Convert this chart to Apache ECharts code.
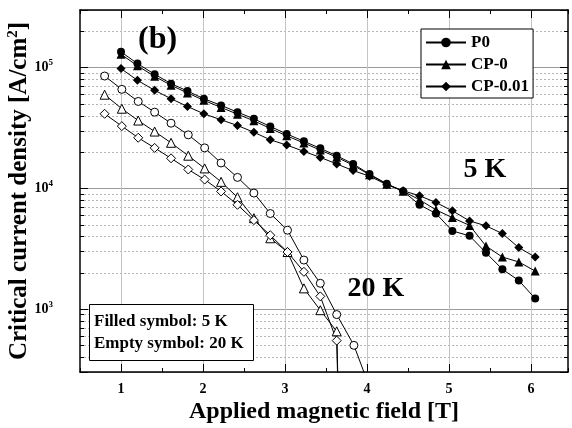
<!DOCTYPE html>
<html>
<head>
<meta charset="utf-8">
<script src="https://cdn.jsdelivr.net/npm/echarts@6/dist/echarts.min.js"></script>
<style>
  html, body { margin: 0; padding: 0; background: #fff; }
  #chart { width: 572px; height: 428px; }
</style>
</head>
<body>
<div id="chart"></div>
<script>
// applied field [T]
const field5K = [1.00, 1.20, 1.41, 1.61, 1.81, 2.01, 2.22, 2.42, 2.62, 2.82, 3.02, 3.23, 3.43, 3.63, 3.83, 4.03, 4.24, 4.44, 4.64, 4.84, 5.04, 5.25, 5.45, 5.65, 5.85, 6.05]
const field20K = [0.80, 1.01, 1.21, 1.41, 1.61, 1.82, 2.02, 2.22, 2.42, 2.62, 2.82, 3.03, 3.23, 3.43, 3.63, 3.84, 4.04]

// critical current density [A/cm2], filled symbols = 5 K
const p0_5K = [135000, 108000, 88000, 73600, 63900, 55200, 48600, 42700, 37600, 32500, 28200, 24500, 21400, 18600, 15900, 13100, 10900, 9440, 7290, 6170, 4430, 4030, 2920, 2130, 1720, 1220]
const cp0_5K = [129000, 103500, 84600, 71300, 61700, 53500, 46700, 41100, 36200, 31300, 27200, 23700, 20700, 18100, 15500, 12950, 10800, 9440, 8020, 6620, 5710, 4920, 3320, 2690, 2450, 2060]
const cp001_5K = [98100, 78400, 64800, 55200, 47600, 41400, 36900, 33100, 29100, 25200, 22800, 20200, 18000, 15900, 14000, 12600, 10700, 9530, 8660, 7620, 6500, 5360, 4880, 4210, 3220, 2690]

// empty symbols = 20 K (last points fall below the axis)
const p0_20K = [85100, 66000, 52400, 42700, 34600, 27700, 21600, 16200, 12300, 9120, 6170, 4490, 2540, 1630, 898, 499, 216]
const cp0_20K = [59600, 45600, 36400, 29500, 23800, 18600, 14600, 11300, 8420, 5650, 3850, 2960, 1480, 976, 652, 0.001]
const cp001_20K = [41400, 32700, 26200, 21600, 17700, 14300, 11800, 9410, 7290, 5440, 4080, 2960, 2030, 1270, 546, 0.001]

// axis decorations
const xMajor = [1, 2, 3, 4, 5, 6]
const yMinor = [400, 500, 600, 700, 800, 900, 2000, 3000, 4000, 5000, 6000, 7000, 8000, 9000,
  20000, 30000, 40000, 50000, 60000, 70000, 80000, 90000, 200000]

const FONT = 'Liberation Serif'
const xMin = 0.5, xMax = 6.45, yMin = 300, yMax = 300000

const pairs = (xs, ys) => ys.map((y, i) => [xs[i], y])

function filled(name, symbol, size, xs, ys) {
  return {
    name: name, type: 'line', symbol: symbol, symbolSize: size,
    data: pairs(xs, ys), z: 5,
    itemStyle: { color: '#000' },
    lineStyle: { color: '#000', width: 1 }
  }
}
function empty(name, symbol, size, xs, ys) {
  return {
    name: name, type: 'line', symbol: symbol, symbolSize: size,
    data: pairs(xs, ys), z: 4,
    itemStyle: { color: '#fff', borderColor: '#000', borderWidth: 1 },
    lineStyle: { color: '#000', width: 1 }
  }
}

const crisp = v => Math.round(v) + 0.5

const chart = echarts.init(document.getElementById('chart'))
chart.setOption({
  animation: false,
  backgroundColor: '#fff',
  grid: { left: 80, right: 4, top: 10, bottom: 56, containLabel: false, outerBoundsMode: 'none' },
  legend: {
    data: ['P0', 'CP-0', 'CP-0.01'],
    orient: 'vertical', left: 421, top: 29,
    itemWidth: 40, itemHeight: 12, itemGap: 5,
    padding: [5, 4, 3, 4],
    backgroundColor: '#fff', borderColor: '#000', borderWidth: 1, borderRadius: 0,
    textStyle: { fontFamily: FONT, fontWeight: 'bold', fontSize: 17, color: '#000' }
  },
  xAxis: [{
    type: 'value', min: xMin, max: xMax, interval: 0.5,
    name: 'Applied magnetic field [T]', nameLocation: 'middle', nameGap: 28, nameMoveOverlap: false,
    nameTextStyle: { fontFamily: FONT, fontWeight: 'bold', fontSize: 24, color: '#000' },
    axisLine: { lineStyle: { color: '#000', width: 1.5 } },
    axisTick: { inside: true, length: 4, lineStyle: { color: '#000' } },
    axisLabel: {
      margin: 10, fontFamily: FONT, fontWeight: 'bold', fontSize: 14, color: '#000',
      formatter: v => Number.isInteger(v) ? String(v) : ''
    },
    splitLine: { show: false }
  }, {
    type: 'value', position: 'top', min: xMin, max: xMax, interval: 0.5,
    axisLine: { lineStyle: { color: '#000', width: 1.5 } },
    axisTick: { inside: true, length: 4, lineStyle: { color: '#000' } },
    axisLabel: { show: false },
    splitLine: { show: false }
  }],
  yAxis: [{
    type: 'log', logBase: 10, min: yMin, max: yMax,
    name: '{a|Critical current density [A/cm}{s|2}{a|]}', nameLocation: 'middle', nameGap: 46, nameMoveOverlap: false,
    nameTextStyle: {
      rich: {
        a: { fontFamily: FONT, fontWeight: 'bold', fontSize: 25, color: '#000', lineHeight: 28 },
        s: { fontFamily: FONT, fontWeight: 'bold', fontSize: 15, color: '#000', verticalAlign: 'top', lineHeight: 28 }
      }
    },
    axisLine: { lineStyle: { color: '#000', width: 1.5 } },
    axisTick: { inside: true, length: 8, lineStyle: { color: '#000' } },
    axisLabel: {
      margin: 27,
      formatter: v => {
        const e = Math.log10(v)
        if (Math.abs(e - Math.round(e)) > 1e-6) return ''
        return '{b|10}{s|' + Math.round(e) + '}'
      },
      rich: {
        b: { fontFamily: FONT, fontWeight: 'bold', fontSize: 14, color: '#000', lineHeight: 18 },
        s: { fontFamily: FONT, fontWeight: 'bold', fontSize: 9, color: '#000', verticalAlign: 'top', lineHeight: 18 }
      }
    },
    splitLine: { show: true, lineStyle: { color: '#9a9a9a', width: 1 } }
  }, {
    type: 'log', logBase: 10, min: yMin, max: yMax, position: 'right',
    axisLine: { lineStyle: { color: '#000', width: 1.5 } },
    axisTick: { inside: true, length: 8, lineStyle: { color: '#000' } },
    axisLabel: { show: false },
    splitLine: { show: false }
  }],
  series: [
    {
      // dotted minor grid + minor ticks on both y sides
      type: 'custom', silent: true, z: 1,
      data: yMinor.map(v => [xMin, v]),
      renderItem: (params, api) => {
        const y = crisp(api.coord([xMin, api.value(1)])[1])
        const x0 = params.coordSys.x, x1 = x0 + params.coordSys.width
        return {
          type: 'group', children: [
            { type: 'line', shape: { x1: x0, y1: y, x2: x1, y2: y }, style: { stroke: '#b4b4b4', lineWidth: 1, lineDash: [2, 2] } },
            { type: 'line', shape: { x1: x0, y1: y, x2: x0 + 4, y2: y }, style: { stroke: '#000', lineWidth: 1 } },
            { type: 'line', shape: { x1: x1 - 4, y1: y, x2: x1, y2: y }, style: { stroke: '#000', lineWidth: 1 } }
          ]
        }
      }
    },
    {
      // vertical grid + longer ticks at whole tesla
      type: 'custom', silent: true, z: 1,
      data: xMajor.map(v => [v, yMin]),
      renderItem: (params, api) => {
        const x = crisp(api.coord([api.value(0), yMin])[0])
        const y0 = params.coordSys.y, y1 = y0 + params.coordSys.height
        return {
          type: 'group', children: [
            { type: 'line', shape: { x1: x, y1: y0, x2: x, y2: y1 }, style: { stroke: '#c4c4c4', lineWidth: 1 } },
            { type: 'line', shape: { x1: x, y1: y1, x2: x, y2: y1 - 8 }, style: { stroke: '#000', lineWidth: 1 } },
            { type: 'line', shape: { x1: x, y1: y0, x2: x, y2: y0 + 8 }, style: { stroke: '#000', lineWidth: 1 } }
          ]
        }
      }
    },
    empty('P0 20K', 'circle', 8, field20K, p0_20K),
    empty('CP-0 20K', 'triangle', 9, field20K, cp0_20K),
    empty('CP-0.01 20K', 'diamond', 9, field20K, cp001_20K),
    filled('P0', 'circle', 8, field5K, p0_5K),
    filled('CP-0', 'triangle', 9, field5K, cp0_5K),
    filled('CP-0.01', 'diamond', 9, field5K, cp001_5K)
  ],
  graphic: [
    { type: 'text', left: 138, top: 24, z: 10,
      style: { text: '(b)', fontFamily: FONT, fontWeight: 'bold', fontSize: 32, fill: '#000' } },
    { type: 'text', x: 485, y: 170, z: 10,
      style: { text: '5 K', fontFamily: FONT, fontWeight: 'bold', fontSize: 28, fill: '#000', align: 'center', verticalAlign: 'middle' } },
    { type: 'text', x: 376, y: 289, z: 10,
      style: { text: '20 K', fontFamily: FONT, fontWeight: 'bold', fontSize: 28, fill: '#000', align: 'center', verticalAlign: 'middle' } },
    { type: 'rect', z: 10, shape: { x: 89.5, y: 304.5, width: 164, height: 56 },
      style: { fill: '#fff', stroke: '#000', lineWidth: 1 } },
    { type: 'text', x: 94, y: 322, z: 11,
      style: { text: 'Filled symbol: 5 K', fontFamily: FONT, fontWeight: 'bold', fontSize: 17, fill: '#000', verticalAlign: 'middle' } },
    { type: 'text', x: 94, y: 344, z: 11,
      style: { text: 'Empty symbol: 20 K', fontFamily: FONT, fontWeight: 'bold', fontSize: 17, fill: '#000', verticalAlign: 'middle' } }
  ]
})
</script>
</body>
</html>
